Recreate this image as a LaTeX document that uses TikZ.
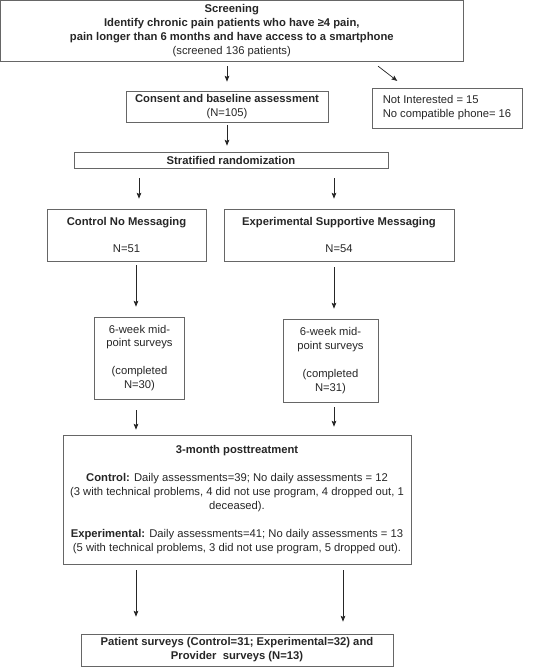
\documentclass[tikz,border=0pt]{standalone}
\usepackage{fontspec}
\setmainfont{Liberation Sans}
\usetikzlibrary{arrows.meta}

\begin{document}
\begin{tikzpicture}[>={Stealth[length=5pt,width=4pt,inset=1pt]}, x=0.03cm, y=-0.03cm,
  every node/.style={font=\fontsize{9.6}{11.9}\selectfont, text=black!85}]
\tikzset{
  box/.style={
    draw=black!60, line width=.6pt, rectangle, inner sep=0pt,
    align=center
  },
  flow/.style={->, line width=.6pt, draw=black!85}
}
\useasboundingbox (0,0) rectangle (544,667);

\node[box, minimum width=13.87cm, minimum height=1.83cm] (screen) at (231.8, 30.5)
  {\textbf{Screening}\\ \textbf{Identify chronic pain patients who have ≥4 pain,}\\
   \textbf{pain longer than 6 months and have access to a smartphone}\\ (screened 136 patients)};
\node[box, minimum width=6.06cm, minimum height=0.93cm] (consent) at (227, 106.5)
  {\textbf{Consent and baseline assessment}\\ (N=105)};
\node[box, align=left, minimum width=4.5cm, minimum height=1.2cm] (excl) at (447, 108)
  {Not Interested = 15\\ No compatible phone= 16};
\node[box, minimum width=9.42cm, minimum height=0.48cm] (strat) at (231, 160)
  {\textbf{Stratified randomization}};

\node[box, minimum width=4.77cm, minimum height=1.56cm] (ctrl) at (126.5, 235)
  {\textbf{Control No Messaging}\\[11.9pt] N=51};
\node[box, minimum width=6.9cm, minimum height=1.56cm] (expt) at (339, 235)
  {\textbf{Experimental Supportive Messaging}\\[11.9pt] N=54};

\node[box, minimum width=2.7cm, minimum height=2.46cm] (midc) at (139.5, 358)
  {6-week mid-\\ point surveys\\[11.9pt] (completed\\ N=30)};
\node[box, minimum width=2.85cm, minimum height=2.49cm] (mide) at (330.5, 360.5)
  {6-week mid-\\ point surveys\\[11.9pt] (completed\\ N=31)};

\node[box, minimum width=10.44cm, minimum height=3.87cm] (post) at (237, 499.5)
  {\textbf{3-month posttreatment}\\[11.9pt]
   \textbf{Control:} Daily assessments=39; No daily assessments = 12\\
   (3 with technical problems, 4 did not use program, 4 dropped out, 1\\
   deceased).\\[11.9pt]
   \textbf{Experimental:} Daily assessments=41; No daily assessments = 13\\
   (5 with technical problems, 3 did not use program, 5 dropped out).};

\node[box, minimum width=9.36cm, minimum height=0.96cm] (final) at (237, 650)
  {\textbf{Patient surveys (Control=31; Experimental=32) and}\\
   \textbf{Provider\ \ surveys (N=13)}};

% arrow columns
\coordinate (cA) at (139, 0);
\coordinate (cB) at (334, 0);
\coordinate (cC) at (136, 0);
\coordinate (cD) at (343, 0);

\draw[flow, shorten <=.15cm, shorten >=.27cm] (screen.south -| consent) -- (consent.north);
\draw[flow, shorten <=.24cm, shorten >=.33cm] ([xshift=4.2cm]screen.south) -- ([xshift=-1.23cm]excl.north);
\draw[flow, shorten <=.09cm, shorten >=.18cm] (consent.south) -- (consent.south |- strat.north);
\draw[flow, shorten <=.30cm, shorten >=.30cm] (strat.south -| cA) -- (ctrl.north -| cA);
\draw[flow, shorten <=.30cm, shorten >=.30cm] (strat.south -| cB) -- (expt.north -| cB);
\draw[flow, shorten <=.12cm, shorten >=.30cm] (ctrl.south -| cC) -- (midc.north -| cC);
\draw[flow, shorten <=.18cm, shorten >=.30cm] (expt.south -| cB) -- (mide.north -| cB);
\draw[flow, shorten <=.33cm, shorten >=.15cm] (midc.south -| cC) -- (post.north -| cC);
\draw[flow, shorten <=.15cm, shorten >=.24cm] (mide.south -| cB) -- (post.north -| cB);
\draw[flow, shorten <=.18cm, shorten >=.51cm] (post.south -| cC) -- (final.north -| cC);
\draw[flow, shorten <=.18cm, shorten >=.36cm] (post.south -| cD) -- (final.north -| cD);
\end{tikzpicture}
\end{document}
